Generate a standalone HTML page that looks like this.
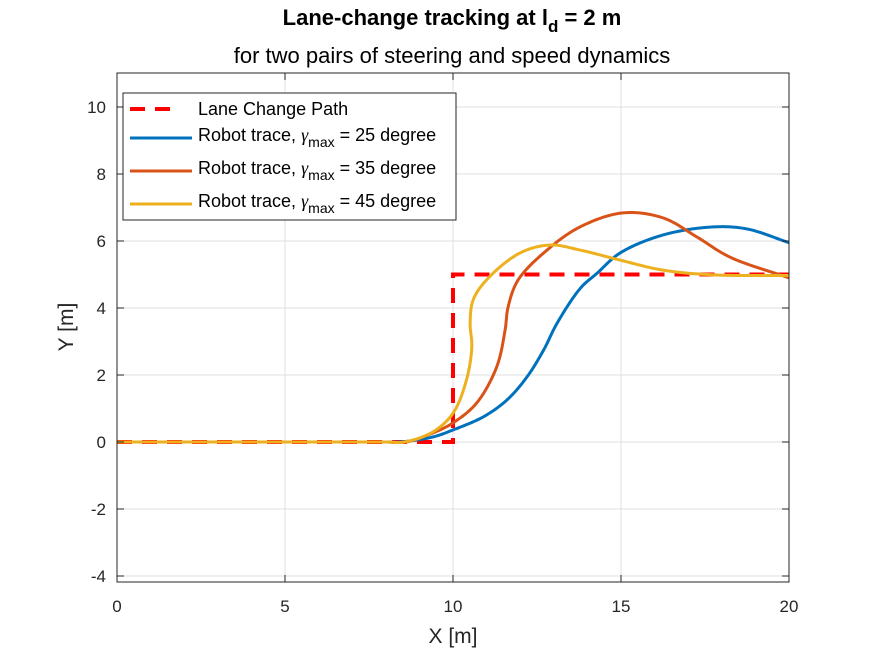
<!DOCTYPE html>
<html><head><meta charset="utf-8"><style>
body{margin:0;background:#fff;}
svg{font-family:"Liberation Sans",Arial,sans-serif;display:block}
</style></head><body>
<svg id="chart" width="875" height="656">
<rect width="875" height="656" fill="#fff"/>
<g id="grid"></g>
<g id="series"></g>
<rect x="117" y="73" width="672" height="509" fill="none" stroke="#262626" stroke-width="1"/>
<g id="ticks"></g>
<text x="452" y="25" text-anchor="middle" font-size="22" font-weight="bold" fill="#000">Lane-change tracking at l<tspan font-size="17" dy="7">d</tspan><tspan dy="-7"> = 2 m</tspan></text>
<text x="452" y="63" text-anchor="middle" font-size="22" fill="#000">for two pairs of steering and speed dynamics</text>
<text x="453" y="643" text-anchor="middle" font-size="21" fill="#262626">X [m]</text>
<text transform="translate(73,327) rotate(-90)" text-anchor="middle" font-size="21" fill="#262626">Y [m]</text>
<g>
<rect x="123" y="93" width="333" height="127" fill="#fff" stroke="#262626" stroke-width="1"/>
<line x1="130" y1="109" x2="180" y2="109" stroke="#ff0000" stroke-width="4" stroke-dasharray="15,10"/>
<text x="198" y="115" font-size="18" fill="#000">Lane Change Path</text>
<line x1="130" y1="138" x2="192" y2="138" stroke="#0072BD" stroke-width="3"/>
<text x="198" y="141" font-size="18" fill="#000">Robot trace, <tspan font-family="Liberation Serif" font-style="italic">γ</tspan><tspan font-size="14" dy="6">max</tspan><tspan dy="-6"> = 25 degree</tspan></text>
<line x1="130" y1="171" x2="192" y2="171" stroke="#D95319" stroke-width="3"/>
<text x="198" y="174" font-size="18" fill="#000">Robot trace, <tspan font-family="Liberation Serif" font-style="italic">γ</tspan><tspan font-size="14" dy="6">max</tspan><tspan dy="-6"> = 35 degree</tspan></text>
<line x1="130" y1="204" x2="192" y2="204" stroke="#EDB120" stroke-width="3"/>
<text x="198" y="207" font-size="18" fill="#000">Robot trace, <tspan font-family="Liberation Serif" font-style="italic">γ</tspan><tspan font-size="14" dy="6">max</tspan><tspan dy="-6"> = 45 degree</tspan></text>
</g>
</svg>
<script>
const xTicks=[0,5,10,15,20];
const yTicks=[-4,-2,0,2,4,6,8,10];
const pathX=[0,10,10,20];
const pathY=[0,0,5,5];
const blueX=[0,4,7,8.0,8.42,9.4,10.0,10.9,11.6,12.2,12.7,13.1,13.8,14.29,14.97,16.25,17.74,18.75,20];
const blueY=[0,0,0,0,0,0.15,0.36,0.75,1.25,1.94,2.75,3.55,4.6,5.04,5.64,6.18,6.42,6.36,5.95];
const orangeX=[0,4,7,8.0,8.6,9.4,10.0,10.7,11.3,11.55,11.64,11.94,12.8,13.78,15.06,16.25,17.26,18.24,20];
const orangeY=[0,0,0,0,0,0.27,0.57,1.16,2.24,3.34,4.03,4.84,5.73,6.42,6.84,6.69,6.12,5.52,4.9];
const yellowX=[0,4,7,8.0,8.55,9.4,10.0,10.4,10.56,10.51,10.6,11.0,11.99,12.89,13.78,14.97,16.25,17.74,20];
const yellowY=[0,0,0,0,0,0.3,0.86,1.85,2.84,3.55,4.24,4.84,5.64,5.88,5.73,5.43,5.13,4.99,4.97];
const X=v=>117+v*33.6, Y=v=>442-v*33.5;
const NS="http://www.w3.org/2000/svg";
const grid=document.getElementById('grid'),ticks=document.getElementById('ticks'),ser=document.getElementById('series');
function mk(tag,attrs,parent){const e=document.createElementNS(NS,tag);for(const k in attrs)e.setAttribute(k,attrs[k]);parent.appendChild(e);return e;}
xTicks.forEach(t=>{
 const g=mk('line',{x1:X(t),x2:X(t),y1:73,y2:582,stroke:'#dfdfdf','stroke-width':1},grid);
 
 
 mk('line',{x1:X(t),x2:X(t),y1:582,y2:575,stroke:'#262626'},ticks);
 mk('line',{x1:X(t),x2:X(t),y1:73,y2:80,stroke:'#262626'},ticks);
 const l=mk('text',{x:X(t),y:612,'text-anchor':'middle','font-size':17,fill:'#262626'},ticks);
 l.textContent=t;
 
 
});
yTicks.forEach(t=>{
 const g=mk('line',{x1:117,x2:789,y1:Y(t),y2:Y(t),stroke:'#dfdfdf','stroke-width':1},grid);
 
 
 mk('line',{x1:117,x2:124,y1:Y(t),y2:Y(t),stroke:'#262626'},ticks);
 mk('line',{x1:789,x2:782,y1:Y(t),y2:Y(t),stroke:'#262626'},ticks);
 const l=mk('text',{x:106,y:Y(t)+6,'text-anchor':'end','font-size':17,fill:'#262626'},ticks);
 l.textContent=t;
 
 
});
function smooth(xs,ys){
 const p=xs.map((x,i)=>[X(x),Y(ys[i])]);
 const out=[p[0]];
 const dist=(a,b)=>Math.pow(Math.hypot(b[0]-a[0],b[1]-a[1])||1e-6,0.5);
 for(let i=0;i<p.length-1;i++){
  const p1=p[i],p2=p[i+1];
  const p0=p[i-1]||[2*p1[0]-p2[0],2*p1[1]-p2[1]];
  const p3=p[i+2]||[2*p2[0]-p1[0],2*p2[1]-p1[1]];
  const t0=0,t1=t0+dist(p0,p1),t2=t1+dist(p1,p2),t3=t2+dist(p2,p3);
  for(let s=1;s<=20;s++){
   const t=t1+(t2-t1)*s/20;
   const L=(a,b,ta,tb)=>[(tb-t)/(tb-ta)*a[0]+(t-ta)/(tb-ta)*b[0],(tb-t)/(tb-ta)*a[1]+(t-ta)/(tb-ta)*b[1]];
   const A1=L(p0,p1,t0,t1),A2=L(p1,p2,t1,t2),A3=L(p2,p3,t2,t3);
   const B1=L(A1,A2,t0,t2),B2=L(A2,A3,t1,t3);
   out.push(L(B1,B2,t1,t2));
  }
 }
 return 'M'+out.map(q=>q[0].toFixed(2)+','+q[1].toFixed(2)).join(' L');}
const lp=mk('path',{d:'M'+pathX.map((x,i)=>X(x)+','+Y(pathY[i])).join(' L'),fill:'none',stroke:'#ff0000','stroke-width':4,'stroke-dasharray':'15,10'},ser);


const b=mk('path',{d:smooth(blueX,blueY),fill:'none',stroke:'#0072BD','stroke-width':3},ser);


const o=mk('path',{d:smooth(orangeX,orangeY),fill:'none',stroke:'#D95319','stroke-width':3},ser);


const y=mk('path',{d:smooth(yellowX,yellowY),fill:'none',stroke:'#EDB120','stroke-width':3},ser);


</script>
</body></html>
